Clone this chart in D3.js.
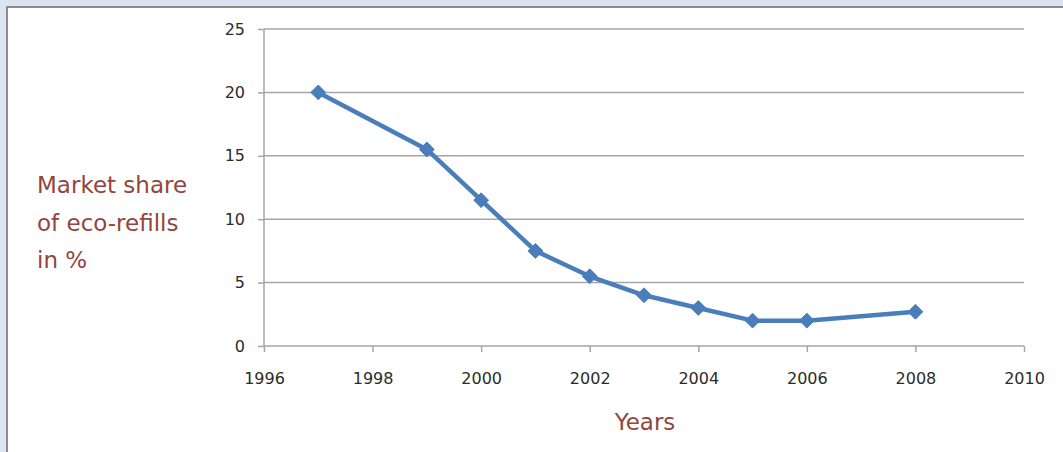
<!DOCTYPE html>
<html>
<head>
<meta charset="utf-8">
<script src="https://cdn.jsdelivr.net/npm/d3@7"></script>
<style>
  html, body { margin: 0; padding: 0; background: #dbe5f1; }
  svg { display: block; }
</style>
</head>
<body>
<svg id="chart" width="1063" height="452"></svg>
<script>
// Market share of eco-refills by year
const years = [1997, 1999, 2000, 2001, 2002, 2003, 2004, 2005, 2006, 2008];
const shares = [20, 15.5, 11.5, 7.5, 5.5, 4, 3, 2, 2, 2.7];
const yTicks = [0, 5, 10, 15, 20, 25];
const xTicks = [1996, 1998, 2000, 2002, 2004, 2006, 2008, 2010];
const yTitleLines = ["Market share", "of eco-refills", "in %"];
const xTitle = "Years";

(function draw() {
  const svg = d3.select("#chart");
  const W = 1063, H = 452;

  // white panel with grey frame
  svg.append("rect").attr("x", 7).attr("y", 7).attr("width", W).attr("height", H)
    .attr("fill", "#ffffff").attr("stroke", "#8c8c8c").attr("stroke-width", 2);

  const plotLeft = 264, plotRight = 1024, plotTop = 29, plotBottom = 346;
  const x = d3.scaleLinear().domain([1996, 2010]).range([plotLeft, plotRight]);
  const y = d3.scaleLinear().domain([0, 25]).range([plotBottom, plotTop]);

  const font = "'DejaVu Sans', Verdana, sans-serif";
  const gridColor = "#a6a6a6";

  // horizontal gridlines
  svg.append("g").selectAll("line").data(yTicks.filter(d => d > 0)).join("line")
    .attr("x1", plotLeft).attr("x2", plotRight)
    .attr("y1", d => y(d)).attr("y2", d => y(d))
    .attr("stroke", gridColor).attr("stroke-width", 1.5);

  // axes
  const yAxis = svg.append("g").attr("transform", `translate(${plotLeft},0)`)
    .call(d3.axisLeft(y).tickValues(yTicks).tickSize(6).tickPadding(13));
  const xAxis = svg.append("g").attr("transform", `translate(0,${plotBottom})`)
    .call(d3.axisBottom(x).tickValues(xTicks).tickFormat(d3.format("d")).tickSize(6).tickPadding(21));

  [yAxis, xAxis].forEach(g => {
    g.select(".domain").attr("stroke", gridColor).attr("stroke-width", 1.5);
    g.selectAll(".tick line").attr("stroke", gridColor).attr("stroke-width", 1.5);
    g.selectAll(".tick text").attr("fill", "#2b2b2b")
      .style("font-family", font).style("font-size", "16px");
  });
  xAxis.select(".domain").attr("d", `M${plotLeft},0H${plotRight}`);
  yAxis.select(".domain").attr("d", `M0,${plotTop}V${plotBottom}`);

  // series line
  const pts = years.map((yr, i) => [yr, shares[i]]);
  svg.append("path").datum(pts)
    .attr("fill", "none").attr("stroke", "#4a7ebb").attr("stroke-width", 4.5)
    .attr("stroke-linejoin", "round")
    .attr("d", d3.line().x(d => x(d[0])).y(d => y(d[1])));

  // diamond markers
  const diamond = d3.symbol().type(d3.symbolDiamond2).size(140);
  svg.append("g").selectAll("path").data(pts).join("path")
    .attr("transform", d => `translate(${x(d[0])},${y(d[1])})`)
    .attr("d", diamond)
    .attr("fill", "#4a7ebb").attr("stroke", "#4a7ebb").attr("stroke-width", 1);

  // axis titles
  const titleColor = "#94453b";
  svg.append("text").attr("fill", titleColor)
    .style("font-family", font).style("font-size", "23px")
    .selectAll("tspan").data(yTitleLines).join("tspan")
    .attr("x", 37).attr("y", (d, i) => 193 + i * 37.5).text(d => d);

  svg.append("text").attr("x", 645).attr("y", 430).attr("text-anchor", "middle")
    .attr("fill", titleColor).style("font-family", font).style("font-size", "23px")
    .text(xTitle);
})();
</script>
</body>
</html>
